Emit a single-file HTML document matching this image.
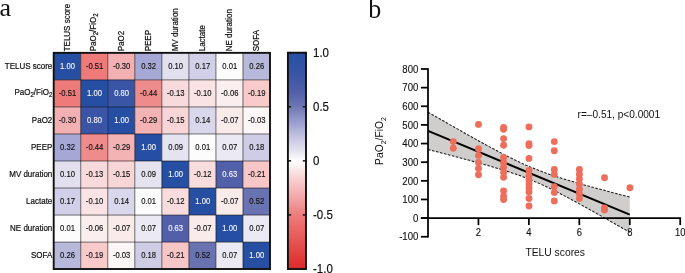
<!DOCTYPE html><html><head><meta charset="utf-8"><style>html,body{margin:0;padding:0;background:#fff;}svg{display:block;will-change:transform}</style></head><body>
<svg width="685" height="273" viewBox="0 0 685 273" font-family='"Liberation Sans", sans-serif'>
<rect width="685" height="273" fill="#fff"/>
<text x="-0.4" y="16.2" font-family='"Liberation Serif", serif' font-size="26" fill="#111">a</text>
<text transform="translate(368.3,17.5) scale(1,1.07)" font-family='"Liberation Serif", serif' font-size="26" fill="#111">b</text>
<rect x="53.700" y="52.850" width="27.038" height="27.038" fill="#264fa3"/>
<rect x="80.738" y="52.850" width="27.038" height="27.038" fill="#ee7a7a"/>
<rect x="107.775" y="52.850" width="27.038" height="27.038" fill="#f3b0b2"/>
<rect x="134.812" y="52.850" width="27.038" height="27.038" fill="#a5a8d5"/>
<rect x="161.850" y="52.850" width="27.038" height="27.038" fill="#e2e0ee"/>
<rect x="188.887" y="52.850" width="27.038" height="27.038" fill="#d2d0e8"/>
<rect x="215.925" y="52.850" width="27.038" height="27.038" fill="#fcfcfd"/>
<rect x="242.963" y="52.850" width="27.038" height="27.038" fill="#b8b9da"/>
<rect x="53.700" y="79.888" width="27.038" height="27.038" fill="#ee7a7a"/>
<rect x="80.738" y="79.888" width="27.038" height="27.038" fill="#264fa3"/>
<rect x="107.775" y="79.888" width="27.038" height="27.038" fill="#3a55a5"/>
<rect x="134.812" y="79.888" width="27.038" height="27.038" fill="#ee8c8c"/>
<rect x="161.850" y="79.888" width="27.038" height="27.038" fill="#f8dadc"/>
<rect x="188.887" y="79.888" width="27.038" height="27.038" fill="#f9e3e4"/>
<rect x="215.925" y="79.888" width="27.038" height="27.038" fill="#fbeeee"/>
<rect x="242.963" y="79.888" width="27.038" height="27.038" fill="#f8caca"/>
<rect x="53.700" y="106.925" width="27.038" height="27.038" fill="#f3b0b2"/>
<rect x="80.738" y="106.925" width="27.038" height="27.038" fill="#3a55a5"/>
<rect x="107.775" y="106.925" width="27.038" height="27.038" fill="#264fa3"/>
<rect x="134.812" y="106.925" width="27.038" height="27.038" fill="#f3b2b4"/>
<rect x="161.850" y="106.925" width="27.038" height="27.038" fill="#f8d5d7"/>
<rect x="188.887" y="106.925" width="27.038" height="27.038" fill="#d9d7eb"/>
<rect x="215.925" y="106.925" width="27.038" height="27.038" fill="#faebeb"/>
<rect x="242.963" y="106.925" width="27.038" height="27.038" fill="#fdf6f6"/>
<rect x="53.700" y="133.963" width="27.038" height="27.038" fill="#a5a8d5"/>
<rect x="80.738" y="133.963" width="27.038" height="27.038" fill="#ee8c8c"/>
<rect x="107.775" y="133.963" width="27.038" height="27.038" fill="#f3b2b4"/>
<rect x="134.812" y="133.963" width="27.038" height="27.038" fill="#264fa3"/>
<rect x="161.850" y="133.963" width="27.038" height="27.038" fill="#e5e3f0"/>
<rect x="188.887" y="133.963" width="27.038" height="27.038" fill="#fcfcfd"/>
<rect x="215.925" y="133.963" width="27.038" height="27.038" fill="#ebe9f3"/>
<rect x="242.963" y="133.963" width="27.038" height="27.038" fill="#cfcde6"/>
<rect x="53.700" y="161.000" width="27.038" height="27.038" fill="#e2e0ee"/>
<rect x="80.738" y="161.000" width="27.038" height="27.038" fill="#f8dadc"/>
<rect x="107.775" y="161.000" width="27.038" height="27.038" fill="#f8d5d7"/>
<rect x="134.812" y="161.000" width="27.038" height="27.038" fill="#e5e3f0"/>
<rect x="161.850" y="161.000" width="27.038" height="27.038" fill="#264fa3"/>
<rect x="188.887" y="161.000" width="27.038" height="27.038" fill="#f9ddde"/>
<rect x="215.925" y="161.000" width="27.038" height="27.038" fill="#5260aa"/>
<rect x="242.963" y="161.000" width="27.038" height="27.038" fill="#f7c6c6"/>
<rect x="53.700" y="188.037" width="27.038" height="27.038" fill="#d2d0e8"/>
<rect x="80.738" y="188.037" width="27.038" height="27.038" fill="#f9e3e4"/>
<rect x="107.775" y="188.037" width="27.038" height="27.038" fill="#d9d7eb"/>
<rect x="134.812" y="188.037" width="27.038" height="27.038" fill="#fcfcfd"/>
<rect x="161.850" y="188.037" width="27.038" height="27.038" fill="#f9ddde"/>
<rect x="188.887" y="188.037" width="27.038" height="27.038" fill="#264fa3"/>
<rect x="215.925" y="188.037" width="27.038" height="27.038" fill="#faebeb"/>
<rect x="242.963" y="188.037" width="27.038" height="27.038" fill="#6a73b2"/>
<rect x="53.700" y="215.075" width="27.038" height="27.038" fill="#fcfcfd"/>
<rect x="80.738" y="215.075" width="27.038" height="27.038" fill="#fbeeee"/>
<rect x="107.775" y="215.075" width="27.038" height="27.038" fill="#faebeb"/>
<rect x="134.812" y="215.075" width="27.038" height="27.038" fill="#ebe9f3"/>
<rect x="161.850" y="215.075" width="27.038" height="27.038" fill="#5260aa"/>
<rect x="188.887" y="215.075" width="27.038" height="27.038" fill="#faebeb"/>
<rect x="215.925" y="215.075" width="27.038" height="27.038" fill="#264fa3"/>
<rect x="242.963" y="215.075" width="27.038" height="27.038" fill="#ebe9f3"/>
<rect x="53.700" y="242.113" width="27.038" height="27.038" fill="#b8b9da"/>
<rect x="80.738" y="242.113" width="27.038" height="27.038" fill="#f8caca"/>
<rect x="107.775" y="242.113" width="27.038" height="27.038" fill="#fdf6f6"/>
<rect x="134.812" y="242.113" width="27.038" height="27.038" fill="#cfcde6"/>
<rect x="161.850" y="242.113" width="27.038" height="27.038" fill="#f7c6c6"/>
<rect x="188.887" y="242.113" width="27.038" height="27.038" fill="#6a73b2"/>
<rect x="215.925" y="242.113" width="27.038" height="27.038" fill="#ebe9f3"/>
<rect x="242.963" y="242.113" width="27.038" height="27.038" fill="#264fa3"/>
<line x1="80.738" y1="52.9" x2="80.738" y2="269.0" stroke="#000" stroke-opacity="0.55" stroke-width="1"/>
<line x1="53.7" y1="79.888" x2="270.0" y2="79.888" stroke="#000" stroke-opacity="0.55" stroke-width="1"/>
<line x1="107.775" y1="52.9" x2="107.775" y2="269.0" stroke="#000" stroke-opacity="0.55" stroke-width="1"/>
<line x1="53.7" y1="106.925" x2="270.0" y2="106.925" stroke="#000" stroke-opacity="0.55" stroke-width="1"/>
<line x1="134.812" y1="52.9" x2="134.812" y2="269.0" stroke="#000" stroke-opacity="0.55" stroke-width="1"/>
<line x1="53.7" y1="133.963" x2="270.0" y2="133.963" stroke="#000" stroke-opacity="0.55" stroke-width="1"/>
<line x1="161.850" y1="52.9" x2="161.850" y2="269.0" stroke="#000" stroke-opacity="0.55" stroke-width="1"/>
<line x1="53.7" y1="161.000" x2="270.0" y2="161.000" stroke="#000" stroke-opacity="0.55" stroke-width="1"/>
<line x1="188.887" y1="52.9" x2="188.887" y2="269.0" stroke="#000" stroke-opacity="0.55" stroke-width="1"/>
<line x1="53.7" y1="188.037" x2="270.0" y2="188.037" stroke="#000" stroke-opacity="0.55" stroke-width="1"/>
<line x1="215.925" y1="52.9" x2="215.925" y2="269.0" stroke="#000" stroke-opacity="0.55" stroke-width="1"/>
<line x1="53.7" y1="215.075" x2="270.0" y2="215.075" stroke="#000" stroke-opacity="0.55" stroke-width="1"/>
<line x1="242.963" y1="52.9" x2="242.963" y2="269.0" stroke="#000" stroke-opacity="0.55" stroke-width="1"/>
<line x1="53.7" y1="242.113" x2="270.0" y2="242.113" stroke="#000" stroke-opacity="0.55" stroke-width="1"/>
<rect x="53.70" y="52.85" width="216.3" height="216.15" fill="none" stroke="#111" stroke-width="1.9"/>
<text transform="translate(67.52,69.27) scale(0.9,1)" font-size="8.5" text-anchor="middle" fill="#f2f2f6" stroke="#f2f2f6" stroke-width="0.15">1.00</text>
<text transform="translate(94.56,69.27) scale(0.9,1)" font-size="8.5" text-anchor="middle" fill="#111" stroke="#111" stroke-width="0.15">-0.51</text>
<text transform="translate(121.59,69.27) scale(0.9,1)" font-size="8.5" text-anchor="middle" fill="#111" stroke="#111" stroke-width="0.15">-0.30</text>
<text transform="translate(148.63,69.27) scale(0.9,1)" font-size="8.5" text-anchor="middle" fill="#111" stroke="#111" stroke-width="0.15">0.32</text>
<text transform="translate(175.67,69.27) scale(0.9,1)" font-size="8.5" text-anchor="middle" fill="#111" stroke="#111" stroke-width="0.15">0.10</text>
<text transform="translate(202.71,69.27) scale(0.9,1)" font-size="8.5" text-anchor="middle" fill="#111" stroke="#111" stroke-width="0.15">0.17</text>
<text transform="translate(229.74,69.27) scale(0.9,1)" font-size="8.5" text-anchor="middle" fill="#111" stroke="#111" stroke-width="0.15">0.01</text>
<text transform="translate(256.78,69.27) scale(0.9,1)" font-size="8.5" text-anchor="middle" fill="#111" stroke="#111" stroke-width="0.15">0.26</text>
<text transform="translate(67.52,96.21) scale(0.9,1)" font-size="8.5" text-anchor="middle" fill="#111" stroke="#111" stroke-width="0.15">-0.51</text>
<text transform="translate(94.56,96.21) scale(0.9,1)" font-size="8.5" text-anchor="middle" fill="#f2f2f6" stroke="#f2f2f6" stroke-width="0.15">1.00</text>
<text transform="translate(121.59,96.21) scale(0.9,1)" font-size="8.5" text-anchor="middle" fill="#f2f2f6" stroke="#f2f2f6" stroke-width="0.15">0.80</text>
<text transform="translate(148.63,96.21) scale(0.9,1)" font-size="8.5" text-anchor="middle" fill="#111" stroke="#111" stroke-width="0.15">-0.44</text>
<text transform="translate(175.67,96.21) scale(0.9,1)" font-size="8.5" text-anchor="middle" fill="#111" stroke="#111" stroke-width="0.15">-0.13</text>
<text transform="translate(202.71,96.21) scale(0.9,1)" font-size="8.5" text-anchor="middle" fill="#111" stroke="#111" stroke-width="0.15">-0.10</text>
<text transform="translate(229.74,96.21) scale(0.9,1)" font-size="8.5" text-anchor="middle" fill="#111" stroke="#111" stroke-width="0.15">-0.06</text>
<text transform="translate(256.78,96.21) scale(0.9,1)" font-size="8.5" text-anchor="middle" fill="#111" stroke="#111" stroke-width="0.15">-0.19</text>
<text transform="translate(67.52,123.14) scale(0.9,1)" font-size="8.5" text-anchor="middle" fill="#111" stroke="#111" stroke-width="0.15">-0.30</text>
<text transform="translate(94.56,123.14) scale(0.9,1)" font-size="8.5" text-anchor="middle" fill="#f2f2f6" stroke="#f2f2f6" stroke-width="0.15">0.80</text>
<text transform="translate(121.59,123.14) scale(0.9,1)" font-size="8.5" text-anchor="middle" fill="#f2f2f6" stroke="#f2f2f6" stroke-width="0.15">1.00</text>
<text transform="translate(148.63,123.14) scale(0.9,1)" font-size="8.5" text-anchor="middle" fill="#111" stroke="#111" stroke-width="0.15">-0.29</text>
<text transform="translate(175.67,123.14) scale(0.9,1)" font-size="8.5" text-anchor="middle" fill="#111" stroke="#111" stroke-width="0.15">-0.15</text>
<text transform="translate(202.71,123.14) scale(0.9,1)" font-size="8.5" text-anchor="middle" fill="#111" stroke="#111" stroke-width="0.15">0.14</text>
<text transform="translate(229.74,123.14) scale(0.9,1)" font-size="8.5" text-anchor="middle" fill="#111" stroke="#111" stroke-width="0.15">-0.07</text>
<text transform="translate(256.78,123.14) scale(0.9,1)" font-size="8.5" text-anchor="middle" fill="#111" stroke="#111" stroke-width="0.15">-0.03</text>
<text transform="translate(67.52,150.08) scale(0.9,1)" font-size="8.5" text-anchor="middle" fill="#111" stroke="#111" stroke-width="0.15">0.32</text>
<text transform="translate(94.56,150.08) scale(0.9,1)" font-size="8.5" text-anchor="middle" fill="#111" stroke="#111" stroke-width="0.15">-0.44</text>
<text transform="translate(121.59,150.08) scale(0.9,1)" font-size="8.5" text-anchor="middle" fill="#111" stroke="#111" stroke-width="0.15">-0.29</text>
<text transform="translate(148.63,150.08) scale(0.9,1)" font-size="8.5" text-anchor="middle" fill="#f2f2f6" stroke="#f2f2f6" stroke-width="0.15">1.00</text>
<text transform="translate(175.67,150.08) scale(0.9,1)" font-size="8.5" text-anchor="middle" fill="#111" stroke="#111" stroke-width="0.15">0.09</text>
<text transform="translate(202.71,150.08) scale(0.9,1)" font-size="8.5" text-anchor="middle" fill="#111" stroke="#111" stroke-width="0.15">0.01</text>
<text transform="translate(229.74,150.08) scale(0.9,1)" font-size="8.5" text-anchor="middle" fill="#111" stroke="#111" stroke-width="0.15">0.07</text>
<text transform="translate(256.78,150.08) scale(0.9,1)" font-size="8.5" text-anchor="middle" fill="#111" stroke="#111" stroke-width="0.15">0.18</text>
<text transform="translate(67.52,177.02) scale(0.9,1)" font-size="8.5" text-anchor="middle" fill="#111" stroke="#111" stroke-width="0.15">0.10</text>
<text transform="translate(94.56,177.02) scale(0.9,1)" font-size="8.5" text-anchor="middle" fill="#111" stroke="#111" stroke-width="0.15">-0.13</text>
<text transform="translate(121.59,177.02) scale(0.9,1)" font-size="8.5" text-anchor="middle" fill="#111" stroke="#111" stroke-width="0.15">-0.15</text>
<text transform="translate(148.63,177.02) scale(0.9,1)" font-size="8.5" text-anchor="middle" fill="#111" stroke="#111" stroke-width="0.15">0.09</text>
<text transform="translate(175.67,177.02) scale(0.9,1)" font-size="8.5" text-anchor="middle" fill="#f2f2f6" stroke="#f2f2f6" stroke-width="0.15">1.00</text>
<text transform="translate(202.71,177.02) scale(0.9,1)" font-size="8.5" text-anchor="middle" fill="#111" stroke="#111" stroke-width="0.15">-0.12</text>
<text transform="translate(229.74,177.02) scale(0.9,1)" font-size="8.5" text-anchor="middle" fill="#f2f2f6" stroke="#f2f2f6" stroke-width="0.15">0.63</text>
<text transform="translate(256.78,177.02) scale(0.9,1)" font-size="8.5" text-anchor="middle" fill="#111" stroke="#111" stroke-width="0.15">-0.21</text>
<text transform="translate(67.52,203.96) scale(0.9,1)" font-size="8.5" text-anchor="middle" fill="#111" stroke="#111" stroke-width="0.15">0.17</text>
<text transform="translate(94.56,203.96) scale(0.9,1)" font-size="8.5" text-anchor="middle" fill="#111" stroke="#111" stroke-width="0.15">-0.10</text>
<text transform="translate(121.59,203.96) scale(0.9,1)" font-size="8.5" text-anchor="middle" fill="#111" stroke="#111" stroke-width="0.15">0.14</text>
<text transform="translate(148.63,203.96) scale(0.9,1)" font-size="8.5" text-anchor="middle" fill="#111" stroke="#111" stroke-width="0.15">0.01</text>
<text transform="translate(175.67,203.96) scale(0.9,1)" font-size="8.5" text-anchor="middle" fill="#111" stroke="#111" stroke-width="0.15">-0.12</text>
<text transform="translate(202.71,203.96) scale(0.9,1)" font-size="8.5" text-anchor="middle" fill="#f2f2f6" stroke="#f2f2f6" stroke-width="0.15">1.00</text>
<text transform="translate(229.74,203.96) scale(0.9,1)" font-size="8.5" text-anchor="middle" fill="#111" stroke="#111" stroke-width="0.15">-0.07</text>
<text transform="translate(256.78,203.96) scale(0.9,1)" font-size="8.5" text-anchor="middle" fill="#111" stroke="#111" stroke-width="0.15">0.52</text>
<text transform="translate(67.52,230.89) scale(0.9,1)" font-size="8.5" text-anchor="middle" fill="#111" stroke="#111" stroke-width="0.15">0.01</text>
<text transform="translate(94.56,230.89) scale(0.9,1)" font-size="8.5" text-anchor="middle" fill="#111" stroke="#111" stroke-width="0.15">-0.06</text>
<text transform="translate(121.59,230.89) scale(0.9,1)" font-size="8.5" text-anchor="middle" fill="#111" stroke="#111" stroke-width="0.15">-0.07</text>
<text transform="translate(148.63,230.89) scale(0.9,1)" font-size="8.5" text-anchor="middle" fill="#111" stroke="#111" stroke-width="0.15">0.07</text>
<text transform="translate(175.67,230.89) scale(0.9,1)" font-size="8.5" text-anchor="middle" fill="#f2f2f6" stroke="#f2f2f6" stroke-width="0.15">0.63</text>
<text transform="translate(202.71,230.89) scale(0.9,1)" font-size="8.5" text-anchor="middle" fill="#111" stroke="#111" stroke-width="0.15">-0.07</text>
<text transform="translate(229.74,230.89) scale(0.9,1)" font-size="8.5" text-anchor="middle" fill="#f2f2f6" stroke="#f2f2f6" stroke-width="0.15">1.00</text>
<text transform="translate(256.78,230.89) scale(0.9,1)" font-size="8.5" text-anchor="middle" fill="#111" stroke="#111" stroke-width="0.15">0.07</text>
<text transform="translate(67.52,257.83) scale(0.9,1)" font-size="8.5" text-anchor="middle" fill="#111" stroke="#111" stroke-width="0.15">0.26</text>
<text transform="translate(94.56,257.83) scale(0.9,1)" font-size="8.5" text-anchor="middle" fill="#111" stroke="#111" stroke-width="0.15">-0.19</text>
<text transform="translate(121.59,257.83) scale(0.9,1)" font-size="8.5" text-anchor="middle" fill="#111" stroke="#111" stroke-width="0.15">-0.03</text>
<text transform="translate(148.63,257.83) scale(0.9,1)" font-size="8.5" text-anchor="middle" fill="#111" stroke="#111" stroke-width="0.15">0.18</text>
<text transform="translate(175.67,257.83) scale(0.9,1)" font-size="8.5" text-anchor="middle" fill="#111" stroke="#111" stroke-width="0.15">-0.21</text>
<text transform="translate(202.71,257.83) scale(0.9,1)" font-size="8.5" text-anchor="middle" fill="#111" stroke="#111" stroke-width="0.15">0.52</text>
<text transform="translate(229.74,257.83) scale(0.9,1)" font-size="8.5" text-anchor="middle" fill="#111" stroke="#111" stroke-width="0.15">0.07</text>
<text transform="translate(256.78,257.83) scale(0.9,1)" font-size="8.5" text-anchor="middle" fill="#f2f2f6" stroke="#f2f2f6" stroke-width="0.15">1.00</text>
<text transform="translate(52.3,68.97) scale(0.8696,1)" font-size="9.20" text-anchor="end" fill="#111" stroke="#111" stroke-width="0.22">TELUS score</text>
<text transform="translate(52.3,95.01) scale(0.8696,1)" font-size="9.20" text-anchor="end" fill="#111" stroke="#111" stroke-width="0.22">PaO<tspan font-size="7" dy="2.2">2</tspan><tspan dy="-2.2">/FiO</tspan><tspan font-size="7" dy="2.2">2</tspan></text>
<text transform="translate(52.3,123.04) scale(0.8696,1)" font-size="9.20" text-anchor="end" fill="#111" stroke="#111" stroke-width="0.22">PaO2</text>
<text transform="translate(52.3,150.08) scale(0.8696,1)" font-size="9.20" text-anchor="end" fill="#111" stroke="#111" stroke-width="0.22">PEEP</text>
<text transform="translate(52.3,177.12) scale(0.8696,1)" font-size="9.20" text-anchor="end" fill="#111" stroke="#111" stroke-width="0.22">MV duration</text>
<text transform="translate(52.3,204.16) scale(0.8696,1)" font-size="9.20" text-anchor="end" fill="#111" stroke="#111" stroke-width="0.22">Lactate</text>
<text transform="translate(52.3,231.19) scale(0.8696,1)" font-size="9.20" text-anchor="end" fill="#111" stroke="#111" stroke-width="0.22">NE duration</text>
<text transform="translate(52.3,258.23) scale(0.8696,1)" font-size="9.20" text-anchor="end" fill="#111" stroke="#111" stroke-width="0.22">SOFA</text>
<text transform="translate(69.82,51.3) rotate(-90) scale(0.8696,1)" font-size="9.20" text-anchor="start" fill="#111" stroke="#111" stroke-width="0.22">TELUS score</text>
<text transform="translate(95.96,51.3) rotate(-90) scale(0.8696,1)" font-size="9.20" text-anchor="start" fill="#111" stroke="#111" stroke-width="0.22">PaO<tspan font-size="7" dy="2.2">2</tspan><tspan dy="-2.2">/FiO</tspan><tspan font-size="7" dy="2.2">2</tspan></text>
<text transform="translate(123.89,51.3) rotate(-90) scale(0.8696,1)" font-size="9.20" text-anchor="start" fill="#111" stroke="#111" stroke-width="0.22">PaO2</text>
<text transform="translate(150.93,51.3) rotate(-90) scale(0.8696,1)" font-size="9.20" text-anchor="start" fill="#111" stroke="#111" stroke-width="0.22">PEEP</text>
<text transform="translate(177.97,51.3) rotate(-90) scale(0.8696,1)" font-size="9.20" text-anchor="start" fill="#111" stroke="#111" stroke-width="0.22">MV duration</text>
<text transform="translate(205.01,51.3) rotate(-90) scale(0.8696,1)" font-size="9.20" text-anchor="start" fill="#111" stroke="#111" stroke-width="0.22">Lactate</text>
<text transform="translate(232.04,51.3) rotate(-90) scale(0.8696,1)" font-size="9.20" text-anchor="start" fill="#111" stroke="#111" stroke-width="0.22">NE duration</text>
<text transform="translate(259.08,51.3) rotate(-90) scale(0.8696,1)" font-size="9.20" text-anchor="start" fill="#111" stroke="#111" stroke-width="0.22">SOFA</text>
<defs><linearGradient id="cb" x1="0" y1="0" x2="0" y2="1">
<stop offset="0.0000" stop-color="#264fa3"/>
<stop offset="0.1000" stop-color="#3a55a5"/>
<stop offset="0.1850" stop-color="#5260aa"/>
<stop offset="0.2400" stop-color="#6a73b2"/>
<stop offset="0.3400" stop-color="#a5a8d5"/>
<stop offset="0.3700" stop-color="#b8b9da"/>
<stop offset="0.4150" stop-color="#d2d0e8"/>
<stop offset="0.4500" stop-color="#e2e0ee"/>
<stop offset="0.5000" stop-color="#ffffff"/>
<stop offset="0.5350" stop-color="#faebeb"/>
<stop offset="0.5750" stop-color="#f8d5d7"/>
<stop offset="0.5950" stop-color="#f8caca"/>
<stop offset="0.6050" stop-color="#f7c6c6"/>
<stop offset="0.6500" stop-color="#f3b0b2"/>
<stop offset="0.7200" stop-color="#ee8c8c"/>
<stop offset="0.7550" stop-color="#ee7a7a"/>
<stop offset="1.0000" stop-color="#dc2a28"/>
</linearGradient></defs>
<rect x="287.9" y="52.7" width="18.1" height="216.3" fill="url(#cb)" stroke="#111" stroke-width="1.9"/>
<line x1="287.9" y1="52.70" x2="291.1" y2="52.70" stroke="#111" stroke-width="1.5"/>
<line x1="302.8" y1="52.70" x2="306.0" y2="52.70" stroke="#111" stroke-width="1.5"/>
<text transform="translate(313,56.80) scale(0.913,1)" font-size="12.6" fill="#111" stroke="#111" stroke-width="0.18">1.0</text>
<line x1="287.9" y1="106.78" x2="291.1" y2="106.78" stroke="#111" stroke-width="1.5"/>
<line x1="302.8" y1="106.78" x2="306.0" y2="106.78" stroke="#111" stroke-width="1.5"/>
<text transform="translate(313,110.88) scale(0.913,1)" font-size="12.6" fill="#111" stroke="#111" stroke-width="0.18">0.5</text>
<line x1="287.9" y1="160.85" x2="291.1" y2="160.85" stroke="#111" stroke-width="1.5"/>
<line x1="302.8" y1="160.85" x2="306.0" y2="160.85" stroke="#111" stroke-width="1.5"/>
<text transform="translate(313,164.95) scale(0.913,1)" font-size="12.6" fill="#111" stroke="#111" stroke-width="0.18">0</text>
<line x1="287.9" y1="214.93" x2="291.1" y2="214.93" stroke="#111" stroke-width="1.5"/>
<line x1="302.8" y1="214.93" x2="306.0" y2="214.93" stroke="#111" stroke-width="1.5"/>
<text transform="translate(313,219.03) scale(0.913,1)" font-size="12.6" fill="#111" stroke="#111" stroke-width="0.18">-0.5</text>
<line x1="287.9" y1="269.00" x2="291.1" y2="269.00" stroke="#111" stroke-width="1.5"/>
<line x1="302.8" y1="269.00" x2="306.0" y2="269.00" stroke="#111" stroke-width="1.5"/>
<text transform="translate(313,273.10) scale(0.913,1)" font-size="12.6" fill="#111" stroke="#111" stroke-width="0.18">-1.0</text>
<polygon points="428.00,112.13 431.36,114.06 434.73,115.98 438.09,117.91 441.45,119.83 444.81,121.75 448.18,123.67 451.54,125.59 454.90,127.50 458.26,129.40 461.63,131.30 464.99,133.20 468.35,135.09 471.71,136.97 475.08,138.85 478.44,140.72 481.80,142.58 485.17,144.42 488.53,146.26 491.89,148.08 495.25,149.88 498.62,151.67 501.98,153.43 505.34,155.17 508.70,156.89 512.07,158.57 515.43,160.22 518.79,161.83 522.15,163.39 525.52,164.91 528.88,166.39 532.24,167.81 535.61,169.18 538.97,170.50 542.33,171.77 545.69,173.00 549.06,174.19 552.42,175.33 555.78,176.44 559.14,177.52 562.51,178.58 565.87,179.61 569.23,180.62 572.59,181.61 575.96,182.58 579.32,183.54 582.68,184.49 586.05,185.43 589.41,186.35 592.77,187.27 596.13,188.18 599.50,189.09 602.86,189.99 606.22,190.88 609.58,191.77 612.95,192.66 616.31,193.54 619.67,194.42 623.03,195.29 626.40,196.16 629.76,197.03 629.76,232.31 626.40,230.38 623.03,228.46 619.67,226.54 616.31,224.62 612.95,222.71 609.58,220.80 606.22,218.89 602.86,216.99 599.50,215.09 596.13,213.20 592.77,211.32 589.41,209.44 586.05,207.57 582.68,205.71 579.32,203.87 575.96,202.03 572.59,200.21 569.23,198.40 565.87,196.62 562.51,194.85 559.14,193.11 555.78,191.39 552.42,189.71 549.06,188.06 545.69,186.45 542.33,184.88 538.97,183.36 535.61,181.88 532.24,180.46 528.88,179.08 525.52,177.76 522.15,176.49 518.79,175.26 515.43,174.07 512.07,172.92 508.70,171.81 505.34,170.73 501.98,169.67 498.62,168.64 495.25,167.63 491.89,166.64 488.53,165.67 485.17,164.70 481.80,163.76 478.44,162.82 475.08,161.89 471.71,160.97 468.35,160.06 464.99,159.15 461.63,158.25 458.26,157.36 454.90,156.47 451.54,155.58 448.18,154.70 444.81,153.82 441.45,152.95 438.09,152.08 434.73,151.21 431.36,150.34 428.00,149.47" fill="#cfcecc"/>
<polyline points="428.00,112.13 431.36,114.06 434.73,115.98 438.09,117.91 441.45,119.83 444.81,121.75 448.18,123.67 451.54,125.59 454.90,127.50 458.26,129.40 461.63,131.30 464.99,133.20 468.35,135.09 471.71,136.97 475.08,138.85 478.44,140.72 481.80,142.58 485.17,144.42 488.53,146.26 491.89,148.08 495.25,149.88 498.62,151.67 501.98,153.43 505.34,155.17 508.70,156.89 512.07,158.57 515.43,160.22 518.79,161.83 522.15,163.39 525.52,164.91 528.88,166.39 532.24,167.81 535.61,169.18 538.97,170.50 542.33,171.77 545.69,173.00 549.06,174.19 552.42,175.33 555.78,176.44 559.14,177.52 562.51,178.58 565.87,179.61 569.23,180.62 572.59,181.61 575.96,182.58 579.32,183.54 582.68,184.49 586.05,185.43 589.41,186.35 592.77,187.27 596.13,188.18 599.50,189.09 602.86,189.99 606.22,190.88 609.58,191.77 612.95,192.66 616.31,193.54 619.67,194.42 623.03,195.29 626.40,196.16 629.76,197.03" fill="none" stroke="#1a1a1a" stroke-width="1.05" stroke-dasharray="2.6,1.5"/>
<polyline points="428.00,149.47 431.36,150.34 434.73,151.21 438.09,152.08 441.45,152.95 444.81,153.82 448.18,154.70 451.54,155.58 454.90,156.47 458.26,157.36 461.63,158.25 464.99,159.15 468.35,160.06 471.71,160.97 475.08,161.89 478.44,162.82 481.80,163.76 485.17,164.70 488.53,165.67 491.89,166.64 495.25,167.63 498.62,168.64 501.98,169.67 505.34,170.73 508.70,171.81 512.07,172.92 515.43,174.07 518.79,175.26 522.15,176.49 525.52,177.76 528.88,179.08 532.24,180.46 535.61,181.88 538.97,183.36 542.33,184.88 545.69,186.45 549.06,188.06 552.42,189.71 555.78,191.39 559.14,193.11 562.51,194.85 565.87,196.62 569.23,198.40 572.59,200.21 575.96,202.03 579.32,203.87 582.68,205.71 586.05,207.57 589.41,209.44 592.77,211.32 596.13,213.20 599.50,215.09 602.86,216.99 606.22,218.89 609.58,220.80 612.95,222.71 616.31,224.62 619.67,226.54 623.03,228.46 626.40,230.38 629.76,232.31" fill="none" stroke="#1a1a1a" stroke-width="1.05" stroke-dasharray="2.6,1.5"/>
<line x1="428.00" y1="130.80" x2="629.76" y2="214.67" stroke="#000" stroke-width="2"/>
<line x1="428.00" y1="68.13" x2="428.00" y2="237.61" stroke="#000" stroke-width="1.75"/>
<line x1="420.90" y1="236.74" x2="428.00" y2="236.74" stroke="#000" stroke-width="1.75"/>
<text transform="translate(418.4,240.44) scale(0.89,1)" font-size="10.8" text-anchor="end" fill="#111" stroke="#111" stroke-width="0.12">-100</text>
<line x1="420.90" y1="218.10" x2="428.00" y2="218.10" stroke="#000" stroke-width="1.75"/>
<text transform="translate(418.4,221.80) scale(0.89,1)" font-size="10.8" text-anchor="end" fill="#111" stroke="#111" stroke-width="0.12">0</text>
<line x1="420.90" y1="199.46" x2="428.00" y2="199.46" stroke="#000" stroke-width="1.75"/>
<text transform="translate(418.4,203.16) scale(0.89,1)" font-size="10.8" text-anchor="end" fill="#111" stroke="#111" stroke-width="0.12">100</text>
<line x1="420.90" y1="180.83" x2="428.00" y2="180.83" stroke="#000" stroke-width="1.75"/>
<text transform="translate(418.4,184.53) scale(0.89,1)" font-size="10.8" text-anchor="end" fill="#111" stroke="#111" stroke-width="0.12">200</text>
<line x1="420.90" y1="162.19" x2="428.00" y2="162.19" stroke="#000" stroke-width="1.75"/>
<text transform="translate(418.4,165.89) scale(0.89,1)" font-size="10.8" text-anchor="end" fill="#111" stroke="#111" stroke-width="0.12">300</text>
<line x1="420.90" y1="143.55" x2="428.00" y2="143.55" stroke="#000" stroke-width="1.75"/>
<text transform="translate(418.4,147.25) scale(0.89,1)" font-size="10.8" text-anchor="end" fill="#111" stroke="#111" stroke-width="0.12">400</text>
<line x1="420.90" y1="124.91" x2="428.00" y2="124.91" stroke="#000" stroke-width="1.75"/>
<text transform="translate(418.4,128.61) scale(0.89,1)" font-size="10.8" text-anchor="end" fill="#111" stroke="#111" stroke-width="0.12">500</text>
<line x1="420.90" y1="106.28" x2="428.00" y2="106.28" stroke="#000" stroke-width="1.75"/>
<text transform="translate(418.4,109.98) scale(0.89,1)" font-size="10.8" text-anchor="end" fill="#111" stroke="#111" stroke-width="0.12">600</text>
<line x1="420.90" y1="87.64" x2="428.00" y2="87.64" stroke="#000" stroke-width="1.75"/>
<text transform="translate(418.4,91.34) scale(0.89,1)" font-size="10.8" text-anchor="end" fill="#111" stroke="#111" stroke-width="0.12">700</text>
<line x1="420.90" y1="69.00" x2="428.00" y2="69.00" stroke="#000" stroke-width="1.75"/>
<text transform="translate(418.4,72.70) scale(0.89,1)" font-size="10.8" text-anchor="end" fill="#111" stroke="#111" stroke-width="0.12">800</text>
<line x1="420.90" y1="218.10" x2="681.08" y2="218.10" stroke="#000" stroke-width="1.75"/>
<line x1="478.44" y1="218.10" x2="478.44" y2="225.10" stroke="#000" stroke-width="1.75"/>
<text transform="translate(478.44,236.0) scale(0.89,1)" font-size="10.6" text-anchor="middle" fill="#111" stroke="#111" stroke-width="0.12">2</text>
<line x1="528.88" y1="218.10" x2="528.88" y2="225.10" stroke="#000" stroke-width="1.75"/>
<text transform="translate(528.88,236.0) scale(0.89,1)" font-size="10.6" text-anchor="middle" fill="#111" stroke="#111" stroke-width="0.12">4</text>
<line x1="579.32" y1="218.10" x2="579.32" y2="225.10" stroke="#000" stroke-width="1.75"/>
<text transform="translate(579.32,236.0) scale(0.89,1)" font-size="10.6" text-anchor="middle" fill="#111" stroke="#111" stroke-width="0.12">6</text>
<line x1="629.76" y1="218.10" x2="629.76" y2="225.10" stroke="#000" stroke-width="1.75"/>
<text transform="translate(629.76,236.0) scale(0.89,1)" font-size="10.6" text-anchor="middle" fill="#111" stroke="#111" stroke-width="0.12">8</text>
<line x1="680.20" y1="218.10" x2="680.20" y2="225.10" stroke="#000" stroke-width="1.75"/>
<text transform="translate(680.20,236.0) scale(0.89,1)" font-size="10.6" text-anchor="middle" fill="#111" stroke="#111" stroke-width="0.12">10</text>
<circle cx="453.30" cy="141.60" r="3.45" fill="#ec6e5b"/>
<circle cx="453.30" cy="148.30" r="3.45" fill="#ec6e5b"/>
<circle cx="478.50" cy="124.40" r="3.45" fill="#ec6e5b"/>
<circle cx="478.50" cy="148.80" r="3.45" fill="#ec6e5b"/>
<circle cx="478.50" cy="155.40" r="3.45" fill="#ec6e5b"/>
<circle cx="478.50" cy="162.40" r="3.45" fill="#ec6e5b"/>
<circle cx="478.50" cy="168.40" r="3.45" fill="#ec6e5b"/>
<circle cx="478.50" cy="174.80" r="3.45" fill="#ec6e5b"/>
<circle cx="503.60" cy="127.40" r="3.45" fill="#ec6e5b"/>
<circle cx="503.60" cy="129.20" r="3.45" fill="#ec6e5b"/>
<circle cx="503.60" cy="138.60" r="3.45" fill="#ec6e5b"/>
<circle cx="503.60" cy="145.30" r="3.45" fill="#ec6e5b"/>
<circle cx="503.60" cy="157.50" r="3.45" fill="#ec6e5b"/>
<circle cx="503.60" cy="162.50" r="3.45" fill="#ec6e5b"/>
<circle cx="503.60" cy="167.50" r="3.45" fill="#ec6e5b"/>
<circle cx="503.60" cy="172.50" r="3.45" fill="#ec6e5b"/>
<circle cx="503.60" cy="177.30" r="3.45" fill="#ec6e5b"/>
<circle cx="503.60" cy="190.90" r="3.45" fill="#ec6e5b"/>
<circle cx="503.60" cy="196.30" r="3.45" fill="#ec6e5b"/>
<circle cx="503.60" cy="199.60" r="3.45" fill="#ec6e5b"/>
<circle cx="529.00" cy="126.90" r="3.45" fill="#ec6e5b"/>
<circle cx="529.00" cy="143.60" r="3.45" fill="#ec6e5b"/>
<circle cx="529.00" cy="145.50" r="3.45" fill="#ec6e5b"/>
<circle cx="529.00" cy="158.40" r="3.45" fill="#ec6e5b"/>
<circle cx="529.00" cy="170.50" r="3.45" fill="#ec6e5b"/>
<circle cx="529.00" cy="176.00" r="3.45" fill="#ec6e5b"/>
<circle cx="529.00" cy="180.00" r="3.45" fill="#ec6e5b"/>
<circle cx="529.00" cy="184.00" r="3.45" fill="#ec6e5b"/>
<circle cx="529.00" cy="188.00" r="3.45" fill="#ec6e5b"/>
<circle cx="529.00" cy="192.00" r="3.45" fill="#ec6e5b"/>
<circle cx="529.00" cy="198.50" r="3.45" fill="#ec6e5b"/>
<circle cx="529.00" cy="206.00" r="3.45" fill="#ec6e5b"/>
<circle cx="554.30" cy="141.60" r="3.45" fill="#ec6e5b"/>
<circle cx="554.30" cy="150.70" r="3.45" fill="#ec6e5b"/>
<circle cx="554.30" cy="169.40" r="3.45" fill="#ec6e5b"/>
<circle cx="554.30" cy="174.40" r="3.45" fill="#ec6e5b"/>
<circle cx="554.30" cy="186.60" r="3.45" fill="#ec6e5b"/>
<circle cx="554.30" cy="192.60" r="3.45" fill="#ec6e5b"/>
<circle cx="554.30" cy="201.00" r="3.45" fill="#ec6e5b"/>
<circle cx="579.40" cy="169.40" r="3.45" fill="#ec6e5b"/>
<circle cx="579.40" cy="174.20" r="3.45" fill="#ec6e5b"/>
<circle cx="579.40" cy="179.00" r="3.45" fill="#ec6e5b"/>
<circle cx="579.40" cy="184.00" r="3.45" fill="#ec6e5b"/>
<circle cx="579.40" cy="189.20" r="3.45" fill="#ec6e5b"/>
<circle cx="579.40" cy="194.00" r="3.45" fill="#ec6e5b"/>
<circle cx="579.40" cy="198.60" r="3.45" fill="#ec6e5b"/>
<circle cx="604.50" cy="177.70" r="3.45" fill="#ec6e5b"/>
<circle cx="604.50" cy="208.00" r="3.45" fill="#ec6e5b"/>
<circle cx="604.50" cy="210.00" r="3.45" fill="#ec6e5b"/>
<circle cx="629.90" cy="187.80" r="3.45" fill="#ec6e5b"/>
<text x="577.6" y="117.6" font-size="10.1" fill="#111">r=&#8211;0.51, p&lt;0.0001</text>
<text x="555.2" y="255.5" font-size="10.3" text-anchor="middle" fill="#111">TELU scores</text>
<text transform="translate(383.2,141.0) rotate(-90)" font-size="10.3" text-anchor="middle" fill="#111">PaO<tspan font-size="7" dy="2.3">2</tspan><tspan dy="-2.3">/FiO</tspan><tspan font-size="7" dy="2.3">2</tspan></text>
</svg></body></html>
